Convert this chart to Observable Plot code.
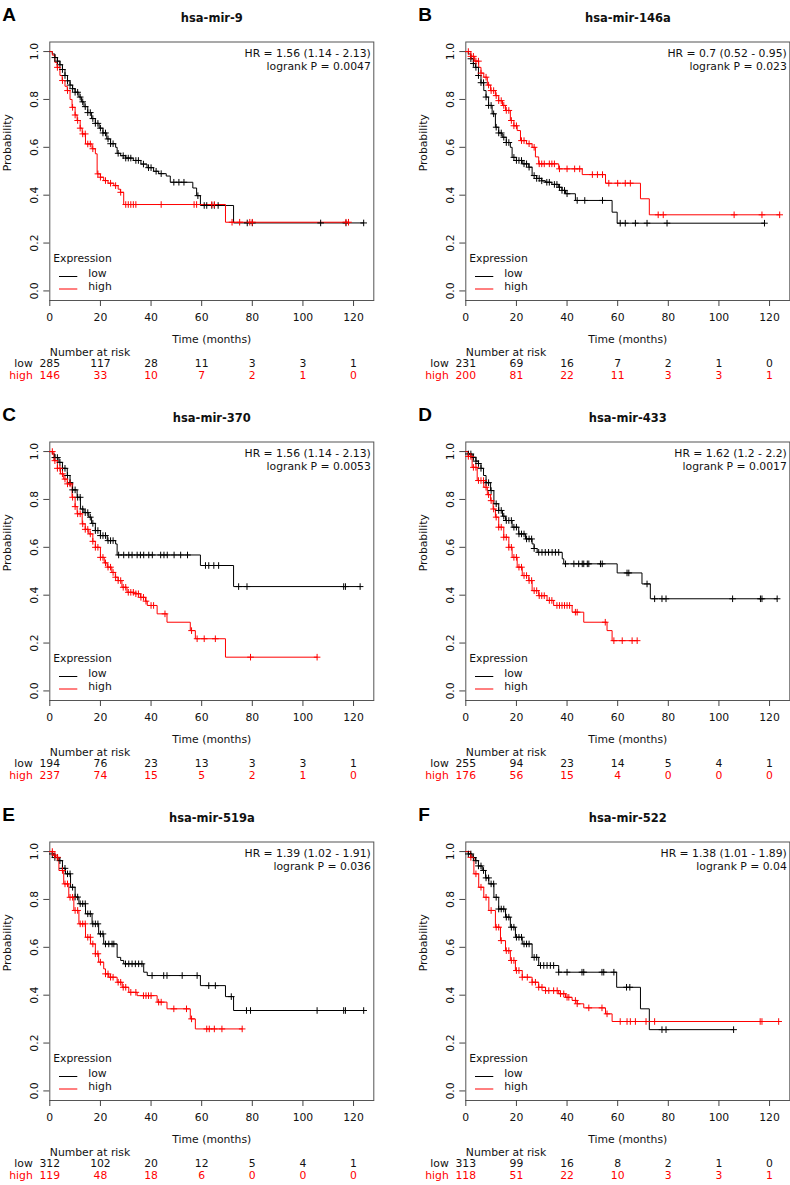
<!DOCTYPE html>
<html><head><meta charset="utf-8">
<script src="https://cdn.jsdelivr.net/npm/d3@7"></script>
<script src="https://cdn.jsdelivr.net/npm/@observablehq/plot@0.6"></script>
<style>
body{margin:0;background:#fff;}
#wrap{position:relative;width:790px;height:1185px;overflow:hidden;background:#fff;}
.panel{position:absolute;}
</style></head><body><div id="wrap"></div>
<script>
// ---------- data ----------
const panelLetters = ["A","B","C","D","E","F"];
const panelTitles = ["hsa-mir-9","hsa-mir-146a","hsa-mir-370","hsa-mir-433","hsa-mir-519a","hsa-mir-522"];
const hrLabels = ["HR = 1.56 (1.14 - 2.13)","HR = 0.7 (0.52 - 0.95)","HR = 1.56 (1.14 - 2.13)","HR = 1.62 (1.2 - 2.2)","HR = 1.39 (1.02 - 1.91)","HR = 1.38 (1.01 - 1.89)"];
const pLabels = ["logrank P = 0.0047","logrank P = 0.023","logrank P = 0.0053","logrank P = 0.0017","logrank P = 0.036","logrank P = 0.04"];
const riskTimes = [0,20,40,60,80,100,120];
const xTicks = [0,20,40,60,80,100,120];
const yTicks = [0,0.2,0.4,0.6,0.8,1.0];

// hsa-mir-9
const mir9Low = [[0,1],[1,0.99],[2,0.975],[3,0.96],[4,0.945],[5,0.925],[6,0.9],[7,0.878],[8,0.86],[9,0.845],[10,0.83],[11.5,0.81],[12.5,0.79],[13.5,0.77],[15,0.745],[16.5,0.72],[18,0.7],[19.5,0.68],[21,0.66],[22.5,0.635],[24,0.615],[26,0.6],[26.6,0.575],[28,0.565],[30,0.555],[33,0.545],[36,0.53],[38.4,0.515],[41,0.5],[43,0.49],[46,0.48],[47.6,0.454],[56.5,0.43],[58,0.398],[59.5,0.357],[72.6,0.284]];
const mir9LowCens = [2,3,4,5,6,7,8,9,10,11,12,13,14,15,16,17,18,19,20,21,22,23,24,25,27,29,30,31,32,34,35,37,39,40,42,44,49,51,53,58.5,61,62,64,65,66.5,78,80,107,117,124];
const mir9High = [[0,1],[1,0.985],[2,0.955],[2.9,0.934],[4,0.9],[4.9,0.879],[6,0.855],[6.9,0.837],[8,0.8],[8.8,0.767],[10,0.735],[10.8,0.712],[12,0.68],[12.8,0.656],[14.1,0.614],[16.7,0.594],[18,0.573],[18.7,0.489],[20,0.475],[21.3,0.461],[23,0.45],[25.3,0.44],[27,0.425],[27.9,0.412],[29.2,0.361],[69.4,0.287]];
const mir9HighCens = [3,5,7,9,10,11,12,13,14,15,16,17,19,20,22,24,26,28,30,31,32,33,34,44,57,58,64,65,72,75,79,80,117,118];
const mir9RiskLow = [285,117,28,11,3,3,1];
const mir9RiskHigh = [146,33,10,7,2,1,0];

// hsa-mir-146a
const mir146aLow = [[0,1],[1,0.99],[2,0.97],[3,0.95],[3.8,0.934],[5,0.9],[6,0.87],[7.1,0.837],[8,0.81],[9,0.775],[10.4,0.74],[11.7,0.684],[13,0.66],[14.4,0.642],[16,0.62],[17.6,0.6],[18.3,0.558],[20,0.545],[22.3,0.531],[24.9,0.517],[26.2,0.482],[28,0.47],[30,0.46],[31.5,0.454],[34,0.445],[36.7,0.433],[38,0.42],[39.4,0.406],[43.3,0.378],[57.8,0.329],[59.8,0.283]];
const mir146aLowCens = [2,3,4,5,6,7,8,9,10,11,12,13,14,15,16,17,19,20,21,22,23,24,25,27,28,29,30,32,33,35,36,37,38,39,40,44,47,54,61,63,67,71.6,79.5,118];
const mir146aHigh = [[0,1],[2,0.98],[3.5,0.96],[5.1,0.934],[6,0.91],[7.1,0.893],[8.5,0.86],[9.8,0.837],[11.7,0.816],[13,0.795],[14.5,0.775],[15.7,0.754],[17.6,0.712],[19,0.69],[20.3,0.67],[21.6,0.628],[24,0.615],[26.2,0.6],[27.5,0.56],[28.8,0.531],[36.7,0.51],[46,0.486],[55.2,0.45],[69,0.385],[72.5,0.318]];
const mir146aHighCens = [1,2,3,4,5,6,8,9,10,11,12,13,14,15,16,17,18,19,20,22,23,25,27,29,30,31,33,34,35,37,40,43,45,50,52,54,56.5,60,63,65,76,78,106,117,124];
const mir146aRiskLow = [231,69,16,7,2,1,0];
const mir146aRiskHigh = [200,81,22,11,3,3,1];

// hsa-mir-370
const mir370Low = [[0,1],[1,0.99],[2,0.975],[3.6,0.955],[5,0.93],[6.9,0.9],[8,0.87],[9,0.84],[10.8,0.809],[12.1,0.76],[13.5,0.745],[15.4,0.726],[16.5,0.7],[18,0.67],[20,0.649],[22.7,0.628],[26,0.614],[26.6,0.568],[59.5,0.524],[72.6,0.436]];
const mir370LowCens = [2,3,4,5,6,7,8,9,10,11,12,13,14,15,16,17,18,19,20,21,22,23,24,25,27.2,29.2,31.2,32.5,34.5,35.8,37.1,39.1,40.5,43.8,45.1,46.4,49.1,51.7,54.4,61.5,62.8,64.8,66.7,74.6,77.9,116.1,116.8,122.6];
const mir370High = [[0,1],[1.6,0.962],[3,0.93],[4.2,0.907],[5.5,0.885],[6.9,0.865],[8.8,0.809],[10,0.77],[10.8,0.74],[12.8,0.698],[14,0.675],[15.4,0.656],[17,0.625],[18,0.6],[20,0.558],[21.5,0.535],[22.7,0.517],[24.5,0.495],[25.9,0.475],[27,0.461],[28.5,0.433],[30.5,0.412],[33.2,0.406],[35.8,0.391],[37.8,0.375],[38.5,0.357],[42.4,0.322],[46.3,0.287],[55.5,0.252],[57.5,0.218],[69.4,0.141]];
const mir370HighCens = [1,2,3,4,5,6,7,8,9,10,11,12,13,14,15,16,17,18,19,20,21,22,23,24,25,26,27,28,29,30,31,32,33,34,35,36,37,38,40,41,45.5,56,58.2,61,65.4,79.3,105.6];
const mir370RiskLow = [194,76,23,13,3,3,1];
const mir370RiskHigh = [237,74,15,5,2,1,0];

// hsa-mir-433
const mir433Low = [[0,1],[1,0.99],[2.5,0.976],[4,0.96],[5,0.95],[6,0.93],[7,0.9],[8,0.87],[9.8,0.837],[11.1,0.782],[13,0.754],[14.5,0.73],[15.7,0.712],[18.3,0.684],[20.9,0.656],[23.6,0.635],[26.2,0.614],[27,0.595],[28.2,0.579],[38.1,0.552],[38.7,0.531],[59.8,0.493],[69.6,0.447],[72.9,0.385]];
const mir433LowCens = [1,2,3,4,5,6,8,9,10,12,13,14,15,16,17,18,19,20,21,22,23,24,25,26,27,28.8,30.1,31.4,32.7,34.1,35.4,36.7,39.4,42.7,44.6,46,46.6,48,48.6,53.2,53.9,63.7,64.4,71.6,74.6,77.5,79.1,105.4,116.4,117,123];
const mir433High = [[0,1],[1,0.98],[2.5,0.934],[4.5,0.879],[7.1,0.851],[8.5,0.82],[9.8,0.795],[10.8,0.76],[11.7,0.726],[13,0.684],[15,0.642],[17,0.6],[18.3,0.558],[20.3,0.517],[22.3,0.482],[24.9,0.461],[26.2,0.419],[28.8,0.398],[32.1,0.378],[34.7,0.357],[42,0.329],[46.6,0.287],[55.8,0.252],[57.8,0.21]];
const mir433HighCens = [1,2,3,4,5,6,7,8,9,10,11,12,13,14,15,16,17,18,19,20,21,22,23,24,25,26,27,28,29,30,31,33,34,36,37,38,39,40,41,43.3,44,55.1,58.5,61.8,65.7,67.7];
const mir433RiskLow = [255,94,23,14,5,4,1];
const mir433RiskHigh = [176,56,15,4,0,0,0];

// hsa-mir-519a
const mir519aLow = [[0,1],[1,0.99],[2,0.975],[3.6,0.962],[5,0.93],[6.2,0.907],[8.2,0.851],[10,0.81],[11.5,0.782],[14.1,0.74],[16.7,0.698],[19.3,0.656],[21.3,0.614],[26.6,0.558],[28,0.545],[29.2,0.531],[37.1,0.496],[38.5,0.482],[59.5,0.44],[69.4,0.394],[72.6,0.336]];
const mir519aLowCens = [1,2,3,4,5,6,7,8,9,10,11,12,13,14,15,16,17,18,19,20,21,22,23.3,24.6,25.3,29.9,31.2,32.5,33.8,35.1,36.4,40.4,45,46.3,52.3,58.2,62.8,65.4,71.7,77.7,79.3,105.6,116.1,116.8,124];
const mir519aHigh = [[0,1],[1.2,0.985],[2.2,0.976],[3.6,0.921],[5.5,0.865],[7.5,0.809],[9.5,0.754],[11.5,0.698],[14.1,0.642],[16.1,0.614],[18,0.573],[19.3,0.538],[21.3,0.51],[22,0.489],[23.3,0.475],[26.6,0.454],[28.6,0.433],[31.2,0.412],[34.5,0.398],[42.4,0.371],[46.3,0.343],[55.5,0.301],[57.5,0.259]];
const mir519aHighCens = [1,2,3,5,6,7,8,9,10,11,12,13,14,15,16,17,18,19,20,22,23,24,25,27,28,29,30,32,34,37,38,39,40,43,44,49,54,56,62,63,65,68,76];
const mir519aRiskLow = [312,102,20,12,5,4,1];
const mir519aRiskHigh = [119,48,18,6,0,0,0];

// hsa-mir-522
const mir522Low = [[0,1],[1,0.99],[2.5,0.975],[3.8,0.962],[5,0.94],[6.5,0.921],[7.8,0.89],[9.1,0.865],[11.1,0.809],[13,0.76],[15.7,0.726],[17.6,0.684],[19.6,0.642],[22.3,0.614],[26.2,0.558],[28.8,0.524],[36.7,0.496],[59.6,0.433],[69,0.343],[72.5,0.256]];
const mir522LowCens = [1,2,3,4,5,6,7,8,9,10,11,12,13,14,15,16,17,18,19,20,21,22,23,24,25,27,28,29.5,30.8,32.1,33.4,34.7,36.7,40,45.9,46.6,53.8,54.5,58.5,63.5,64.8,77.5,79.1,105.8];
const mir522High = [[0,1],[1.9,0.976],[3.2,0.907],[5.1,0.851],[7.1,0.809],[9.1,0.754],[11.7,0.684],[13.7,0.628],[15.7,0.586],[17.6,0.545],[19.6,0.503],[22.3,0.475],[26.2,0.454],[28.8,0.433],[31.5,0.419],[36.7,0.406],[39.4,0.391],[42,0.378],[44,0.364],[46.6,0.347],[55.2,0.322],[57.8,0.29]];
const mir522HighCens = [2,4,6,8,10,12,13,14,16,17,18,19,20,21,22.3,24.3,26.2,27.5,28.8,30.1,31.5,32.8,34.7,36.1,37.4,38.7,40,40.7,43.3,44,48.6,53.8,55.8,61,63.7,65,67,71.2,74.6,116.3,117,123.6];
const mir522RiskLow = [313,99,16,8,2,1,0];
const mir522RiskHigh = [118,51,22,10,3,3,1];

// ---------- build ----------
const lowCurves = [mir9Low, mir146aLow, mir370Low, mir433Low, mir519aLow, mir522Low];
const lowCens = [mir9LowCens, mir146aLowCens, mir370LowCens, mir433LowCens, mir519aLowCens, mir522LowCens];
const highCurves = [mir9High, mir146aHigh, mir370High, mir433High, mir519aHigh, mir522High];
const highCens = [mir9HighCens, mir146aHighCens, mir370HighCens, mir433HighCens, mir519aHighCens, mir522HighCens];
const risksLow = [mir9RiskLow, mir146aRiskLow, mir370RiskLow, mir433RiskLow, mir519aRiskLow, mir522RiskLow];
const risksHigh = [mir9RiskHigh, mir146aRiskHigh, mir370RiskHigh, mir433RiskHigh, mir519aRiskHigh, mir522RiskHigh];

const RED = "#ff0000";
const INK = "#111";
const FONT = "DejaVu Sans";

function survAt(curve, t) {
  let s = curve[0][1];
  for (const [ct, cs] of curve) { if (ct <= t) s = cs; else break; }
  return s;
}
function lineData(curve, cens) {
  const pts = curve.map(([t, s]) => ({t, s}));
  const end = Math.max(curve[curve.length - 1][0], d3.max(cens));
  pts.push({t: end, s: curve[curve.length - 1][1]});
  return pts;
}
function censData(curve, cens) {
  return cens.map(t => ({t, s: survAt(curve, t)}));
}
const plusSymbol = {
  draw(ctx, size) {
    const r = Math.sqrt(size / Math.PI);
    ctx.moveTo(-r, 0); ctx.lineTo(r, 0);
    ctx.moveTo(0, -r); ctx.lineTo(0, r);
  }
};

const wrap = document.getElementById("wrap");
for (let i = 0; i < 6; i++) {
  const col = i % 2, row = Math.floor(i / 2);
  const left = col === 0 ? 0 : 416;
  const top = row * 400;
  const width = col === 0 ? 395 : 374;
  const height = row === 2 ? 385 : 400;
  const mL = 49.3, mT = 41.5, plotW = 324, plotBottom = 300;

  const svg = Plot.plot({
    width, height,
    marginLeft: mL, marginTop: mT,
    marginRight: width - mL - plotW,
    marginBottom: height - plotBottom,
    x: {domain: [0, 128]},
    y: {domain: [-0.04, 1.04]},
    style: {fontFamily: FONT, fontSize: "10.8px", color: INK, background: "transparent", overflow: "visible"},
    marks: [
      Plot.frame({stroke: "#555", strokeWidth: 1}),
      Plot.axisX({ticks: xTicks, tickSize: 6, tickPadding: 7, label: null, stroke: "#444"}),
      Plot.axisY({ticks: yTicks, tickFormat: d3.format(".1f"), tickSize: 6, tickPadding: 6, tickRotate: -90, label: null, stroke: "#444"}),
      Plot.line(lineData(lowCurves[i], lowCens[i]), {x: "t", y: "s", curve: "step-after", stroke: "#000", strokeWidth: 1}),
      Plot.line(lineData(highCurves[i], highCens[i]), {x: "t", y: "s", curve: "step-after", stroke: RED, strokeWidth: 1}),
      Plot.dot(censData(lowCurves[i], lowCens[i]), {x: "t", y: "s", symbol: plusSymbol, r: 3.3, fill: "none", stroke: "#000", strokeWidth: 1}),
      Plot.dot(censData(highCurves[i], highCens[i]), {x: "t", y: "s", symbol: plusSymbol, r: 3.3, fill: "none", stroke: RED, strokeWidth: 1}),
      // panel letter + title
      Plot.text([panelLetters[i]], {text: d => d, frameAnchor: "top-left", dx: -47.5, dy: -27, textAnchor: "start", lineAnchor: "middle", fontFamily: "Liberation Sans", fontWeight: "bold", fontSize: 19, fill: "#000"}),
      Plot.text([panelTitles[i]], {text: d => d, frameAnchor: "top", dy: -23.5, lineAnchor: "middle", fontWeight: "bold", fontSize: 11.5, fill: INK}),
      // HR / p
      Plot.text([hrLabels[i]], {text: d => d, frameAnchor: "top-right", dx: -3, dy: 12, textAnchor: "end", lineAnchor: "middle", fill: INK}),
      Plot.text([pLabels[i]], {text: d => d, frameAnchor: "top-right", dx: -3, dy: 25, textAnchor: "end", lineAnchor: "middle", fill: INK}),
      // axis titles
      Plot.text(["Probability"], {text: d => d, frameAnchor: "left", rotate: -90, dx: -42, fill: INK}),
      Plot.text(["Time (months)"], {text: d => d, frameAnchor: "bottom", dy: 42.3, fill: INK}),
      // legend text
      Plot.text(["Expression"], {text: d => d, frameAnchor: "bottom-left", dx: 3.4, dy: -38.5, textAnchor: "start", fill: INK}),
      Plot.text(["low"], {text: d => d, frameAnchor: "bottom-left", dx: 38.4, dy: -23.5, textAnchor: "start", fill: INK}),
      Plot.text(["high"], {text: d => d, frameAnchor: "bottom-left", dx: 38.4, dy: -11, textAnchor: "start", fill: INK}),
      // number at risk
      Plot.text(["Number at risk"], {text: d => d, frameAnchor: "bottom-left", dy: 55, textAnchor: "start", fill: INK}),
      Plot.text(["low"], {text: d => d, frameAnchor: "bottom-left", dx: -17, dy: 66.7, textAnchor: "end", fill: INK}),
      Plot.text(["high"], {text: d => d, frameAnchor: "bottom-left", dx: -17, dy: 78.3, textAnchor: "end", fill: RED}),
      Plot.text(riskTimes, {x: d => d, text: (d, j) => String(risksLow[i][j]), frameAnchor: "bottom", dy: 66.7, fill: INK}),
      Plot.text(riskTimes, {x: d => d, text: (d, j) => String(risksHigh[i][j]), frameAnchor: "bottom", dy: 78.3, fill: RED})
    ]
  });
  // legend line samples
  const s = d3.select(svg);
  [["#000", plotBottom - 23.5], [RED, plotBottom - 11]].forEach(([c, y]) => {
    s.append("line").attr("x1", mL + 9.7).attr("x2", mL + 28).attr("y1", y).attr("y2", y)
      .attr("stroke", c).attr("stroke-width", 1);
  });
  const div = document.createElement("div");
  div.className = "panel";
  div.style.left = left + "px";
  div.style.top = top + "px";
  div.appendChild(svg);
  wrap.appendChild(div);
}
</script>
</body></html>
